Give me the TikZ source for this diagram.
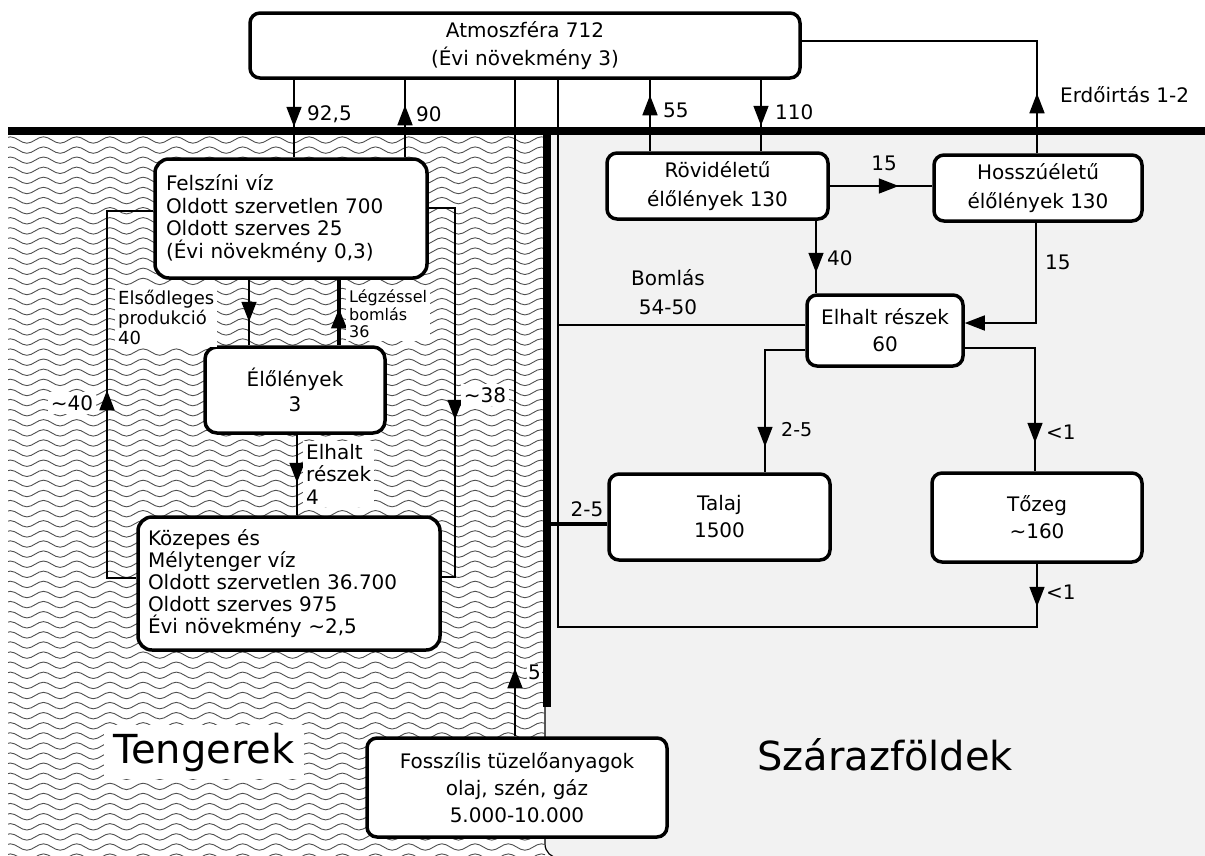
\documentclass[tikz,border=0pt]{standalone}
\usepackage{fontspec}
\setmainfont{DejaVu Sans}
\usetikzlibrary{arrows.meta,decorations.markings}
\definecolor{landgray}{HTML}{F2F2F2}
\definecolor{wavegray}{HTML}{505050}
\newcommand\fsz[2]{\fontsize{#1}{#2}\selectfont}

\begin{document}
\begin{tikzpicture}[x=1pt,y=-1pt,
  >={Triangle[length=20pt,width=15pt]},
  box/.style={draw, fill=white, line width=3.5pt, rounded corners=10pt, inner sep=0pt, font=\fsz{20}{27}, align=center},
  flow/.style={line width=1.6pt},
  tipat/.style={postaction={decorate}, decoration={markings, mark=at position #1pt with {\arrow{>}}}},
  lab/.style={font=\fsz{20}{22}, inner sep=1pt},
  olab/.style={lab, fill=white, inner sep=3pt},
  wave/.style={line width=0.9pt, draw=wavegray},
  border/.style={line width=8.5pt}
]
\useasboundingbox (0,0) rectangle (1205,855);
\fill[white] (0,0) rectangle (1205,855);

% land area
\filldraw[fill=landgray, draw=black, line width=1.2pt]
  (1215,865) -- (1215,131) -- (545,131) -- (545,844)
  arc[start angle=180, end angle=90, radius=14] -- (1215,858) -- cycle;

% sea waves
\begin{scope}
  \clip (8,136) rectangle (545,855);
  \foreach \r in {0,...,71} {
    \draw[wave] (2,140+\r*10.1)
      \foreach \k in {0,...,17} {
        sin ++(8.3,-3.2) cos ++(8.3,3.2) sin ++(8.3,3.2) cos ++(8.3,-3.2)
      };
  }
\end{scope}

% surface and coast lines
\draw[border] (8,131) -- (1205,131);
\draw[border] (547,131) -- (547,707);

% reservoirs
\node[box, minimum width=550pt, minimum height=65pt, font=\fsz{20}{28}] (atm) at (525,45.5) {Atmoszféra 712\\(Évi növekmény 3)};
\node[box, minimum width=272pt, minimum height=119pt, align=left, text width=250pt, font=\fsz{20}{22.5}, rounded corners=14pt] (fv) at (291,218.5) {Felszíni víz\\Oldott szervetlen 700\\Oldott szerves 25\\(Évi növekmény 0,3)};
\node[box, minimum width=180pt, minimum height=86pt, font=\fsz{20}{25}, rounded corners=12pt] (ell) at (295,390) {Élőlények\\3};
\node[box, minimum width=302pt, minimum height=133pt, align=left, text width=282pt, font=\fsz{20}{22}, rounded corners=14pt] (kz) at (289,583.5) {Közepes és\\Mélytenger víz\\Oldott szervetlen 36.700\\Oldott szerves 975\\Évi növekmény \textasciitilde2,5};
\node[box, minimum width=300pt, minimum height=99pt] (foss) at (517,787.5) {Fosszílis tüzelőanyagok\\olaj, szén, gáz\\5.000-10.000};
\node[box, minimum width=221pt, minimum height=66pt, font=\fsz{20}{29}] (rv) at (717.5,186) {Rövidéletű\\élőlények 130};
\node[box, minimum width=208pt, minimum height=66pt, font=\fsz{20}{29}] (hs) at (1038,188) {Hosszúéletű\\élőlények 130};
\node[box, minimum width=156pt, minimum height=71pt] (el) at (885,330.5) {Elhalt részek\\60};
\node[box, minimum width=221pt, minimum height=86pt] (tj) at (719.5,517) {Talaj\\1500};
\node[box, minimum width=210pt, minimum height=89pt] (tz) at (1037,517.5) {Tőzeg\\\textasciitilde160};

% atmosphere exchanges
\draw[flow, tipat=47] (294,0 |- atm.south) -- (294,0 |- fv.north);
\draw[flow, tipat=52] (405,0 |- fv.north) -- (405,0 |- atm.south);
\draw[flow, tipat=68] (515,0 |- foss.north) -- (515,0 |- atm.south);
\draw[flow, tipat=43] (tz.south) -- (tz.south |- 0,627) -- (558,627) -- (558,0 |- atm.south);
\draw[flow] (el.west |- 0,325) -- (558,325);
\draw[flow, tipat=56] (650,0 |- rv.north) -- (650,0 |- atm.south);
\draw[flow, tipat=46] (761,0 |- atm.south) -- (761,0 |- rv.north);
\draw[flow, tipat=69] (rv.east |- 0,186) -- (hs.west |- 0,186);
\draw[flow, tipat=60] (1037,0 |- hs.north) -- (1037,41) -- (atm.east |- 0,41);

% land flows
\draw[flow, tipat=52] (816,0 |- rv.south) -- (816,0 |- el.north);
\draw[flow, ->] (1036,0 |- hs.south) -- (1036,323) -- (el.east |- 0,323);
\draw[flow, tipat=137] (el.west |- 0,350) -- (765,350) -- (765,0 |- tj.north);
\draw[flow, tipat=165] (el.east |- 0,348) -- (1035,348) -- (1035,0 |- tz.north);
\draw[line width=4pt] (tj.west |- 0,524) -- (548,524);

% sea flows
\draw[flow, tipat=42] (249,0 |- fv.south) -- (249,0 |- ell.north);
\draw[line width=3.5pt, tipat=37] (339,0 |- ell.north) -- (339,0 |- fv.south);
\draw[flow, tipat=48] (297,0 |- ell.south) -- (297,0 |- kz.north);
\draw[flow, tipat=217] (kz.west |- 0,578) -- (107,578) -- (107,211) -- (fv.west |- 0,211);
\draw[flow, tipat=238] (fv.east |- 0,208) -- (455,208) -- (455,577) -- (kz.east |- 0,577);

% flow labels
\node[lab, anchor=west] (l925) at (306,114) {92,5};
\node[lab, anchor=west] (l90) at (415,114) {90};
\node[lab, anchor=west] (l55) at (662,110) {55};
\node[lab, anchor=west] (l110) at (774,112) {110};
\node[lab] (l15a) at (884,163) {15};
\node[lab, anchor=west] (lerd) at (1059,95) {Erdőirtás 1-2};
\node[lab, anchor=west] (l40) at (826,258) {40};
\node[lab, anchor=west] (l15b) at (1044,262) {15};
\node[lab, align=center, font=\fsz{20}{29}] (lbom) at (668,292.5) {Bomlás\\54-50};
\node[lab, anchor=west, font=\fsz{19}{22}] (l25a) at (780,430) {2-5};
\node[lab, anchor=west] (l1a) at (1045,432) {<1};
\node[lab, anchor=west] (l1b) at (1045,592) {<1};
\node[lab] (l25b) at (587,509) {2-5};
\node[olab, anchor=west, inner sep=1pt] (l5) at (527,672) {5};
\node[olab] (l40o) at (72,403) {\textasciitilde40};
\node[olab] (l38) at (485,395) {\textasciitilde38};
\node[olab, anchor=west, align=left, font=\fsz{18}{20}] (lprod) at (115,317) {Elsődleges\\produkció\\40};
\node[olab, anchor=west, align=left, font=\fsz{16}{17.5}] (lresp) at (346,314) {Légzéssel\\bomlás\\36};
\node[olab, anchor=west, align=left, font=\fsz{20}{22.5}] (ldead) at (303,474) {Elhalt\\részek\\4};

% region names
\node[fill=white, font=\fsz{40}{48}, inner xsep=10pt, inner ysep=8pt] (tng) at (204,752) {Tengerek};
\node[font=\fsz{40}{48}] (szf) at (885,755) {Szárazföldek};
\end{tikzpicture}
\end{document}
